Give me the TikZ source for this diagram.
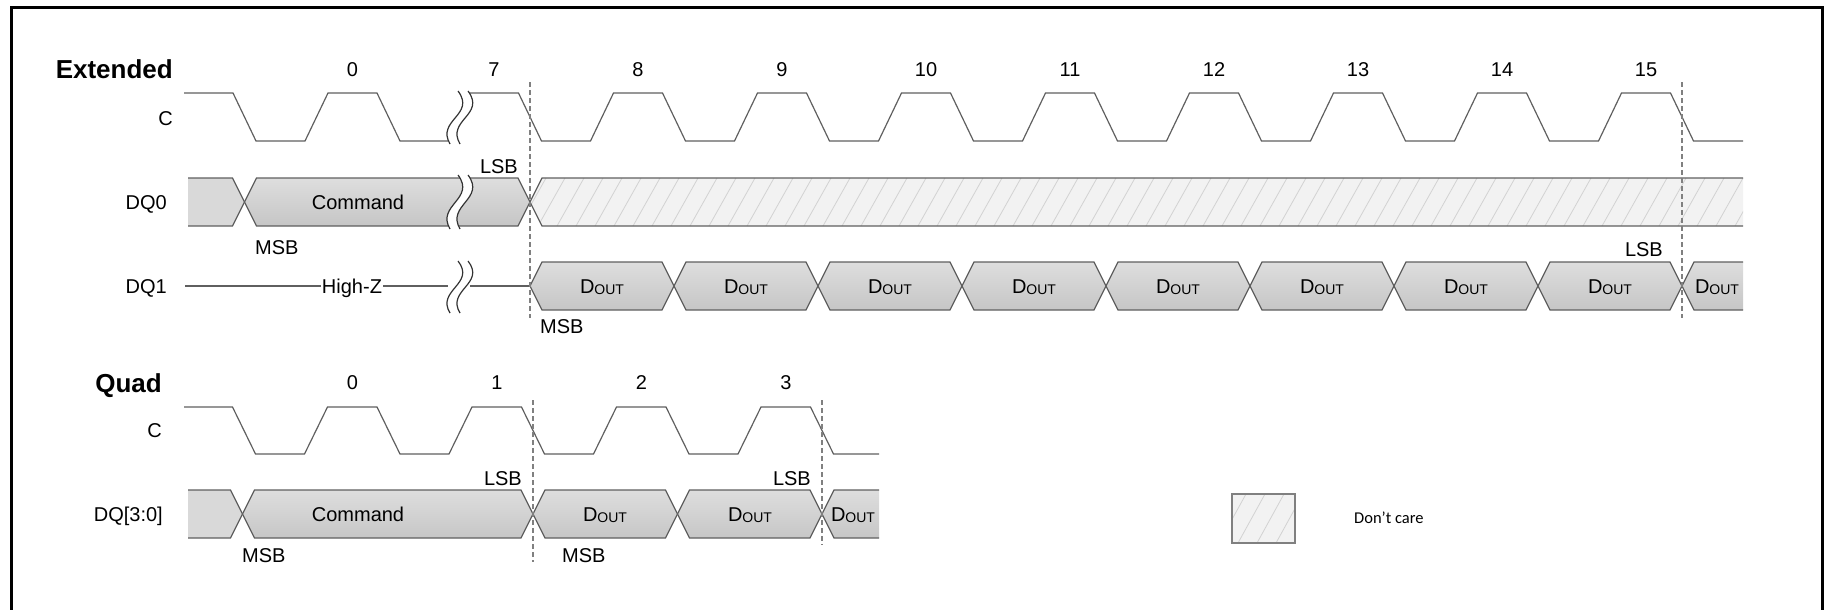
\documentclass[tikz,border=0pt]{standalone}
\usepackage{fontspec}
\setmainfont{Liberation Sans}
\newfontfamily\legendfont{Carlito}
\definecolor{sigcol}{HTML}{5F5F5F}
\definecolor{celltop}{HTML}{DEDEDE}
\definecolor{cellbot}{HTML}{C6C6C6}
\definecolor{leadcol}{HTML}{D9D9D9}
\definecolor{hatchbg}{HTML}{F2F2F2}
\definecolor{hatchcol}{HTML}{D2D2D2}
\definecolor{dashcol}{HTML}{808080}
\definecolor{brkcol}{HTML}{333333}
\newcommand\dout{D\raisebox{-1.5pt}{\fontsize{14}{14}\selectfont OUT}}
% cell: xa xb top mid bot
\newcommand\dcell[5]{\path[cell] (#1,#4) -- (#1+12,#3) -- (#2-12,#3) -- (#2,#4) -- (#2-12,#5) -- (#1+12,#5) -- cycle;}
% break mark: x top bot k(=0.45H)
\newcommand\brkmark[4]{%
  \draw[brk] (#1,#3) .. controls (#1-14,#3-#4) and (#1+26,#2+#4) .. (#1+8,#2);
  \draw[brk] (#1+10,#3) .. controls (#1-4,#3-#4) and (#1+36,#2+#4) .. (#1+18,#2);}
\tikzset{
  sig/.style={draw=sigcol, line width=1.2pt, line join=miter},
  cell/.style={draw=sigcol, line width=1.2pt, top color=celltop, bottom color=cellbot},
  leadfill/.style={fill=leadcol},
  hatchline/.style={draw=hatchcol, line width=0.8pt},
  vdash/.style={draw=dashcol, line width=1.2pt, dash pattern=on 5pt off 3pt},
  brk/.style={draw=brkcol, line width=1.2pt},
  lbl/.style={inner sep=0pt, font=\fontsize{20}{24}\selectfont},
  ttl/.style={inner sep=0pt, font=\bfseries\fontsize{26}{30}\selectfont},
}
\begin{document}
\begin{tikzpicture}[x=1pt,y=-1pt]
\useasboundingbox (0,0) rectangle (1830,610);
% frame
\draw[line width=3pt] (11,620) -- (11,7.5) -- (1822.5,7.5) -- (1822.5,620);

% ================= EXTENDED =================
\node[ttl, anchor=base east] (ext) at (173,78.5) {Extended};
\foreach \n/\x in {0/352.5,7/494,8/638,9/782,10/926,11/1070,12/1214,13/1358,14/1502,15/1646}
  \node[lbl, anchor=base] (en\n) at (\x,76) {\n};
\node[lbl, anchor=base east] (extC) at (173,125) {C};
\node[lbl, anchor=base east] (extDQ0) at (167,209) {DQ0};
\node[lbl, anchor=base east] (extDQ1) at (167,293) {DQ1};

% clock
\draw[sig] (184,93) -- (233,93) -- (256,141) -- (305,141) -- (328,93) -- (377,93) -- (400,141) -- (448,141);
\draw[sig] (470,93) \foreach \c in {494,638,...,1502} { -- (\c+24.5,93) -- (\c+47.5,141) -- (\c+96.5,141) -- (\c+119.5,93) }
  -- (1670.5,93) -- (1693.5,141) -- (1743,141);
\brkmark{450}{91}{144}{24}

% DQ0
\fill[leadfill] (188,178) -- (232.5,178) -- (244.5,202) -- (232.5,226) -- (188,226) -- cycle;
\draw[sig] (188,178) -- (232.5,178) -- (244.5,202) -- (232.5,226) -- (188,226);
\dcell{244.5}{530}{178}{202}{226}
\begin{scope}
  \clip (530,202) -- (542,178) -- (1743,178) -- (1743,226) -- (542,226) -- cycle;
  \fill[hatchbg] (520,170) rectangle (1750,235);
  \foreach \x in {500,519,...,1750} \draw[hatchline] (\x,226) -- (\x+27,178);
\end{scope}
\draw[sig] (1743,178) -- (542,178) -- (530,202) -- (542,226) -- (1743,226);
\fill[white] (450,229) .. controls (436,205) and (476,199) .. (458,175) -- (468,175) .. controls (486,199) and (446,205) .. (460,229) -- cycle;
\brkmark{450}{175}{229}{24}
\node[lbl, anchor=base] (cmd1) at (358,209) {Command};
\node[lbl, anchor=base west] (msb1) at (255,254) {MSB};
\node[lbl, anchor=base east] (lsb1) at (518,173) {LSB};

% DQ1
\draw[sig] (185,286) -- (448,286);
\draw[sig] (470,286) -- (530,286);
\node[lbl, anchor=base, fill=white, inner xsep=1pt] (hiz) at (352,293) {High-Z};
\brkmark{450}{261}{313}{23}
\foreach \k [evaluate=\k as \xa using 530+144*\k, evaluate=\k as \xb using 674+144*\k, evaluate=\k as \xm using 602+144*\k] in {0,...,7} {
  \dcell{\xa}{\xb}{262}{286}{310}
  \node[lbl, anchor=base] (d1\k) at (\xm,293) {\dout};
}
\path[cell, draw=none] (1682,286) -- (1694,262) -- (1743,262) -- (1743,310) -- (1694,310) -- cycle;
\draw[sig] (1743,262) -- (1694,262) -- (1682,286) -- (1694,310) -- (1743,310);
\node[lbl, anchor=base] (d1last) at (1717,293) {\dout};
\node[lbl, anchor=base west] (msb2) at (540,333) {MSB};
\node[lbl, anchor=base east] (lsb2) at (1663,256) {LSB};

\draw[vdash] (530,82) -- (530,318);
\draw[vdash] (1682,82) -- (1682,318);

% ================= QUAD =================
\node[ttl, anchor=base east] (quad) at (162,392) {Quad};
\foreach \n/\x in {0/352.5,1/497,2/641.5,3/786}
  \node[lbl, anchor=base] (qn\n) at (\x,389) {\n};
\node[lbl, anchor=base east] (quadC) at (162,437) {C};
\node[lbl, anchor=base east] (quadDQ) at (163,521) {DQ[3:0]};

\draw[sig] (184,407) \foreach \c in {208,352.5,497,641.5} { -- (\c+24.5,407) -- (\c+47.5,454) -- (\c+96.5,454) -- (\c+119.5,407) }
  -- (810.5,407) -- (833.5,454) -- (879,454);

\fill[leadfill] (188,490) -- (230.5,490) -- (242.5,514) -- (230.5,538) -- (188,538) -- cycle;
\draw[sig] (188,490) -- (230.5,490) -- (242.5,514) -- (230.5,538) -- (188,538);
\dcell{242.5}{533}{490}{514}{538}
\dcell{533}{677.5}{490}{514}{538}
\dcell{677.5}{822}{490}{514}{538}
\path[cell, draw=none] (822,514) -- (834,490) -- (879,490) -- (879,538) -- (834,538) -- cycle;
\draw[sig] (879,490) -- (834,490) -- (822,514) -- (834,538) -- (879,538);
\node[lbl, anchor=base] (cmd2) at (358,521) {Command};
\node[lbl, anchor=base] (dq1) at (605,521) {\dout};
\node[lbl, anchor=base] (dq2) at (750,521) {\dout};
\node[lbl, anchor=base] (dq3) at (853,521) {\dout};
\node[lbl, anchor=base west] (msb3) at (242,562) {MSB};
\node[lbl, anchor=base west] (msb4) at (562,562) {MSB};
\node[lbl, anchor=base east] (lsb3) at (522,485) {LSB};
\node[lbl, anchor=base east] (lsb4) at (811,485) {LSB};

\draw[vdash] (533,400) -- (533,562);
\draw[vdash] (822,400) -- (822,545);

% ================= LEGEND =================
\begin{scope}
  \clip (1232,494) rectangle (1295,543);
  \fill[hatchbg] (1232,494) rectangle (1295,543);
  \foreach \x in {1200,1219,...,1300} \draw[hatchline] (\x,543) -- (\x+27,494);
\end{scope}
\draw[draw=dashcol, line width=1.2pt] (1232,494) rectangle (1295,543);
\node[inner sep=0pt, anchor=base west, font=\legendfont\fontsize{16.5}{19}\selectfont] (dc) at (1354,523) {Don’t care};
\end{tikzpicture}
\end{document}
